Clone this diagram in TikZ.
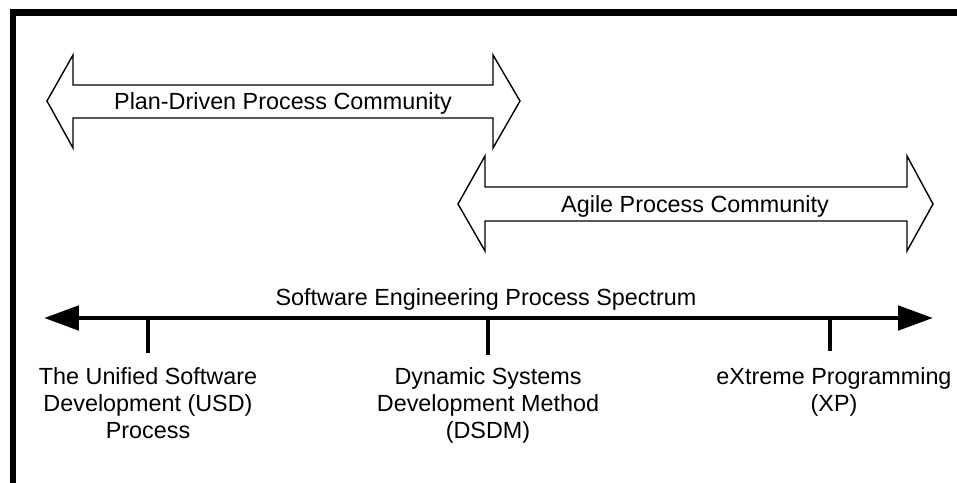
\documentclass[tikz,border=0pt]{standalone}
\usepackage{fontspec}
\setmainfont{Liberation Sans}
\usetikzlibrary{arrows.meta}

\begin{document}
\begin{tikzpicture}[x=0.02cm,y=-0.02cm,
        frame line/.style={line width=3.7pt, line join=miter},
        block arrow/.style={draw, fill=white, line width=.8pt, line join=miter},
        spectrum line/.style={line width=2.8pt,
            {Triangle[length=19.8pt,width=13.6pt]}-{Triangle[length=19.8pt,width=13.6pt]}},
        tick line/.style={line width=2.8pt},
        label text/.style={inner sep=0pt, font=\fontsize{13.3}{15.3}\selectfont, align=center}]
        \useasboundingbox (0,0) rectangle (957,483);
        \draw[frame line] (13,483) -- (13,12.5) -- (957,12.5);

        % the two communities
        \draw[block arrow] (47,101) -- (73,55) -- (73,85) -- (493,85) -- (493,55) -- (520,101)
            -- (493,148) -- (493,118) -- (73,118) -- (73,148) -- cycle;
        \node[label text, anchor=base] (plan) at (283,110) {Plan-Driven Process Community};

        \draw[block arrow] (458,204) -- (485,156) -- (485,187) -- (907,187) -- (907,156) -- (933,204)
            -- (907,251) -- (907,221) -- (485,221) -- (485,251) -- cycle;
        \node[label text, anchor=base] (agile) at (695,213) {Agile Process Community};

        % the spectrum
        \coordinate (left end) at (44,318);
        \coordinate (right end) at (933,318);
        \draw[spectrum line] (left end) -- (right end);
        \node[label text, anchor=base] (spectrum) at (486,305) {Software Engineering Process Spectrum};

        \node[label text, anchor=north] (usd) at (148,367)
            {The Unified Software\\Development (USD)\\Process};
        \node[label text, anchor=north] (dsdm) at (488,367)
            {Dynamic Systems\\Development Method\\(DSDM)};
        \node[label text, anchor=north] (xp) at (834,367)
            {eXtreme Programming\\(XP)};

        \coordinate (usd tick) at (148,353);
        \coordinate (dsdm tick) at (488,355);
        \coordinate (xp tick) at (830,351);
        \draw[tick line] (usd tick |- left end) -- (usd tick);
        \draw[tick line] (dsdm tick |- left end) -- (dsdm tick);
        \draw[tick line] (xp tick |- left end) -- (xp tick);
      \end{tikzpicture}
\end{document}
